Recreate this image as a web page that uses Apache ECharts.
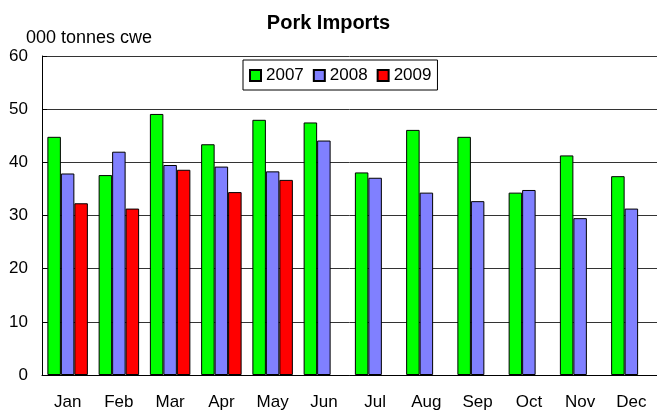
<!DOCTYPE html>
<html>
<head>
<meta charset="utf-8">
<script src="https://cdn.jsdelivr.net/npm/echarts@6/dist/echarts.min.js"></script>
<style>
  html, body { margin: 0; padding: 0; background: #fff; }
  #chart { width: 657px; height: 414px; }
</style>
</head>
<body>
<div id="chart"></div>
<script>
const months = ['Jan', 'Feb', 'Mar', 'Apr', 'May', 'Jun', 'Jul', 'Aug', 'Sep', 'Oct', 'Nov', 'Dec'];
const imports2007 = [44.8, 37.6, 49.1, 43.4, 48.0, 47.5, 38.1, 46.1, 44.8, 34.3, 41.3, 37.4];
const imports2008 = [37.9, 42.0, 39.5, 39.2, 38.3, 44.1, 37.1, 34.3, 32.7, 34.8, 29.5, 31.3];
const imports2009 = [32.3, 31.3, 38.6, 34.4, 36.7];
const yTicks = [0, 10, 20, 30, 40, 50, 60];

const font = 'Liberation Sans, Arial, sans-serif';
const colors = ['#00ff00', '#8080ff', '#ff0000'];

const chart = echarts.init(document.getElementById('chart'));

const barSeries = (name, data, i) => ({
  name: name,
  type: 'bar',
  data: data,
  barGap: '0%',
  barCategoryGap: '21%',
  itemStyle: {
    color: colors[i],
    borderColor: '#000',
    borderWidth: 1
  }
});

chart.setOption({
  backgroundColor: '#fff',
  animation: false,
  title: [
    {
      text: 'Pork Imports',
      left: 'center',
      top: 8,
      textStyle: { fontFamily: font, fontSize: 20, fontWeight: 'bold', color: '#000' }
    },
    {
      text: '000 tonnes cwe',
      left: 21,
      top: 24,
      textStyle: { fontFamily: font, fontSize: 18, fontWeight: 'normal', color: '#000' }
    }
  ],
  legend: {
    left: 243,
    top: 60,
    icon: 'rect',
    itemWidth: 11,
    itemHeight: 11,
    itemGap: 9,
    padding: [7, 6, 6, 6],
    borderColor: '#000',
    borderWidth: 1,
    backgroundColor: '#fff',
    textStyle: { fontFamily: font, fontSize: 17, color: '#000' },
    data: ['2007', '2008', '2009']
  },
  grid: {
    left: 42,
    top: 56,
    width: 620,
    height: 319
  },
  xAxis: {
    type: 'category',
    data: months,
    axisLine: { lineStyle: { color: '#000', width: 1 } },
    axisTick: { show: false },
    axisLabel: { fontFamily: font, fontSize: 17, color: '#000', margin: 19 }
  },
  yAxis: {
    type: 'value',
    min: yTicks[0],
    max: yTicks[yTicks.length - 1],
    interval: 10,
    axisLine: { show: true, lineStyle: { color: '#000' } },
    axisTick: { show: true, inside: true, length: 5, lineStyle: { color: '#000' } },
    axisLabel: { fontFamily: font, fontSize: 17, color: '#000', margin: 14 },
    splitLine: { lineStyle: { color: '#333', width: 1 } }
  },
  series: [
    barSeries('2007', imports2007, 0),
    barSeries('2008', imports2008, 1),
    barSeries('2009', imports2009, 2)
  ]
});
</script>
</body>
</html>
